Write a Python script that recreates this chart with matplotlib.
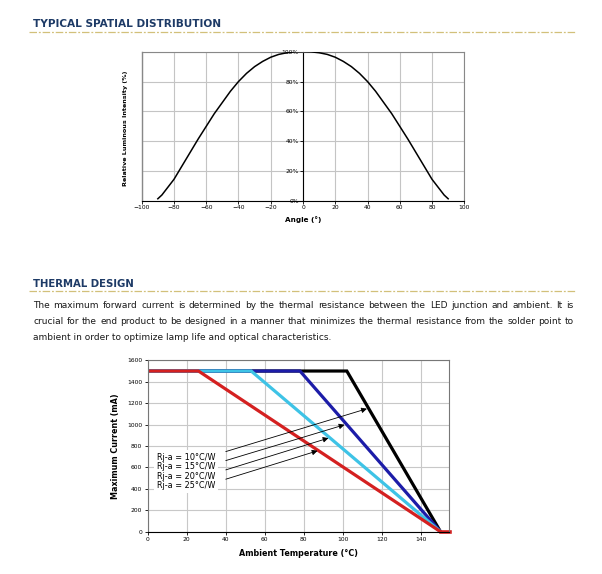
import matplotlib
matplotlib.use('Agg')
import matplotlib.pyplot as plt

W, H = 602, 574

# spatial distribution
angles = [-90, -87.5, -85, -82.5, -80, -75, -70, -65, -60, -55, -50, -45, -40, -35, -30, -25, -20,
          -15, -10, -5, 0, 5, 10, 15, 20, 25, 30, 35, 40, 45, 50, 55, 60, 65, 70, 75, 80,
          82.5, 85, 87.5, 90]
intensity = [1.5, 4, 7.5, 11, 14.5, 23.5, 32.5, 41.5, 50, 58.5, 66, 73.5, 80, 85.5, 90, 93.5, 96.3,
             98.2, 99.3, 99.9, 100, 99.9, 99.3, 98.2, 96.3, 93.5, 90, 85.5, 80, 73.5, 66, 58.5, 50,
             41.5, 32.5, 23.5, 14.5, 11, 7.5, 4, 1.5]
angle_ticks = [-100, -80, -60, -40, -20, 0, 20, 40, 60, 80, 100]
pct_ticks = [0, 20, 40, 60, 80, 100]

# thermal derating
rja_labels = ["Rj-a = 10°C/W", "Rj-a = 15°C/W", "Rj-a = 20°C/W", "Rj-a = 25°C/W"]
knee_temps = [102, 78, 53, 26]
max_current = 1500
zero_temp = 150
end_temp = 155
line_colors = ['black', '#1c1ca8', '#3ec3e6', '#d42020']
arrow_start = [(40, 748), (40, 664), (40, 577), (40, 490)]
arrow_end = [(112.3, 1148), (100.8, 998), (92.6, 874), (87.0, 755)]

paragraph = [
    "The maximum forward current is determined by the thermal resistance between the LED junction and ambient. It is",
    "crucial for the end product to be designed in a manner that minimizes the thermal resistance from the solder point to",
    "ambient in order to optimize lamp life and optical characteristics.",
]

title_color = '#1d3a66'
rule_color = '#d2c07a'


def px(x):
    return x / W


def py(y):
    return 1 - y / H


def section_header(fig, text, y_text, y_rule, size):
    fig.text(px(33), py(y_text), text, fontsize=size, fontweight='bold',
             color=title_color, va='center', ha='left')
    fig.add_artist(plt.Line2D([px(29), px(575)], [py(y_rule), py(y_rule)],
                              color=rule_color, lw=0.9, ls=(0, (6, 1.5, 1.5, 1.5))))


def justified_line(fig, renderer, line, x0, x1, y, **kw):
    words = line.split()
    texts = [fig.text(0, py(y), w, va='center', ha='left', **kw) for w in words]
    widths = [t.get_window_extent(renderer).width for t in texts]
    gap = (x1 - x0 - sum(widths)) / (len(words) - 1)
    x = x0
    for t, w in zip(texts, widths):
        t.set_x(px(x))
        x += w + gap


fig = plt.figure(figsize=(W / 100, H / 100), dpi=100)
fig.patch.set_facecolor('white')
renderer = fig.canvas.get_renderer()

section_header(fig, "TYPICAL SPATIAL DISTRIBUTION", 24, 32, 7.6)
section_header(fig, "THERMAL DESIGN", 284, 291, 7.3)

para_y = [305, 321.5, 337.5]
para_kw = dict(fontsize=6.5, color='#1a1a1a')
justified_line(fig, renderer, paragraph[0], 33, 573.5, para_y[0], **para_kw)
justified_line(fig, renderer, paragraph[1], 33, 573.5, para_y[1], **para_kw)
fig.text(px(33), py(para_y[2]), paragraph[2], va='center', ha='left', **para_kw)

# ---- spatial distribution chart ----
ax1 = fig.add_axes([px(141.7), py(201), px(464.3) - px(141.7), py(51.7) - py(201)])
ax1.plot(angles, intensity, color='black', lw=1.1, zorder=3)
ax1.set_xlim(-100, 100)
ax1.set_ylim(0, 100)
ax1.set_xticks(angle_ticks)
ax1.set_yticks(pct_ticks)
ax1.set_yticklabels([f"{v}%" for v in pct_ticks])
ax1.grid(True, color='#c4c4c4', lw=0.8)
ax1.set_axisbelow(True)
ax1.spines['left'].set_position(('data', 0))
ax1.spines['left'].set_color('black')
ax1.spines['bottom'].set_color('black')
for s in ['top', 'right']:
    ax1.spines[s].set_color('#888888')
ax1.axvline(-100, color='#888888', lw=1.0, clip_on=False)
ax1.tick_params(labelsize=4.3, length=2, width=0.6, pad=1, colors='black')
ax1.set_xlabel('Angle (°)', fontsize=5.2, fontweight='bold', labelpad=4)
fig.text(px(125), py(128), 'Relative Luminous Intensity (%)', rotation=90,
         fontsize=4.6, fontweight='bold', ha='center', va='center')

# ---- thermal derating chart ----
ax2 = fig.add_axes([px(147.7), py(531.7), px(449.3) - px(147.7), py(360.3) - py(531.7)])
for knee, col in zip(knee_temps, line_colors):
    ax2.plot([0, knee, zero_temp], [max_current, max_current, 0], color=col, lw=2.3,
             solid_joinstyle='miter', zorder=2)
ax2.plot([zero_temp, end_temp], [0, 0], color=line_colors[-1], lw=2.6, zorder=2, clip_on=False)
ax2.set_xlim(0, 154.5)
ax2.set_ylim(0, 1600)
ax2.set_xticks(range(0, 141, 20))
ax2.set_yticks(range(0, 1601, 200))
ax2.grid(True, color='#c8c8c8', lw=0.8)
ax2.set_axisbelow(True)
for s in ['top', 'right', 'left']:
    ax2.spines[s].set_color('#777777')
ax2.spines['bottom'].set_color('black')
ax2.tick_params(labelsize=4.3, length=2, width=0.6, pad=2)
ax2.set_xlabel('Ambient Temperature (°C)', fontsize=5.8, fontweight='bold', labelpad=5)
ax2.set_ylabel('Maximum Current (mA)', fontsize=5.8, fontweight='bold', labelpad=5)

ax2.text(4.8, 563, "\n".join(rja_labels), fontsize=5.9, ha='left', va='center',
         linespacing=1.08, zorder=4,
         bbox=dict(facecolor='white', edgecolor='none', pad=2))
for s, e in zip(arrow_start, arrow_end):
    ax2.annotate('', xy=e, xytext=s, zorder=5,
                 arrowprops=dict(arrowstyle='-|>', color='black', lw=0.6,
                                 mutation_scale=8, shrinkA=0, shrinkB=0))

fig.savefig('out.png', dpi=100)
